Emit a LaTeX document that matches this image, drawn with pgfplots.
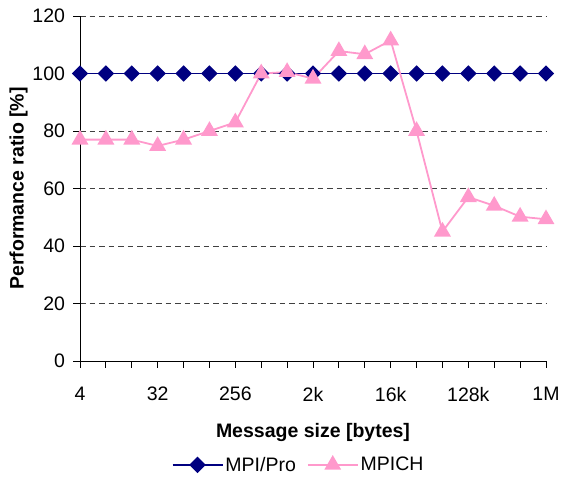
\documentclass[border=0pt]{standalone}
\usepackage{fontspec}
\setmainfont{Liberation Sans}
\usepackage{pgfplots}
\pgfplotsset{compat=1.18}
\definecolor{mpipro}{RGB}{0,0,128}
\definecolor{mpich}{RGB}{255,153,204}
\begin{document}
\begin{tikzpicture}
\useasboundingbox (0,0) rectangle (562bp,480bp);
\begin{axis}[
  at={(80bp,119bp)}, anchor=south west,
  scale only axis, width=466bp, height=345bp,
  xmin=2, xmax=20, ymin=0, ymax=120,
  axis x line=bottom, axis y line=left,
  axis line style={-, black, line width=0.9bp},
  xtick={2,...,20},
  xticklabels={4,{},{},32,{},{},256,{},{},2k,{},{},16k,{},{},128k,{},{},1M},
  ytick={0,20,...,120},
  tick align=outside, major tick length=6.5bp,
  tick style={black, line width=0.8bp},
  ymajorgrids,
  major grid style={black!75, line width=0.8bp, dash pattern=on 5.5bp off 4bp},
  /pgf/number format/assume math mode=true,
  tick label style={font=\fontsize{19.5bp}{22bp}\selectfont},
  yticklabel style={xshift=-5bp},
  xticklabel style={yshift=-16bp},
  xlabel={\textbf{Message size [bytes]}},
  ylabel={\textbf{Performance ratio [\%]}},
  label style={font=\fontsize{19.5bp}{22bp}\selectfont},
  xlabel style={yshift=-15bp},
  ylabel style={yshift=-2bp},
  legend style={at={(0.469,-0.301)}, anchor=center, draw=none, fill=none,
    font=\fontsize{19.5bp}{22bp}\selectfont, /tikz/every even column/.append style={column sep=9bp}},
  legend columns=2,
  legend image code/.code={
    \draw[mark repeat=2,mark phase=2,#1] plot coordinates {(0bp,0bp) (25bp,0bp) (50bp,0bp)};
  },
  clip=false,
]
\addplot[mpipro, line width=1.8bp, mark=square*, mark size=4.9bp, mark options={rotate=45, solid, fill=mpipro}]
coordinates {
(2,100) (3,100) (4,100) (5,100) (6,100) (7,100) (8,100) (9,100) (10,100) (11,100)
(12,100) (13,100) (14,100) (15,100) (16,100) (17,100) (18,100) (19,100) (20,100)
};
\addlegendentry{MPI/Pro}
\addplot[mpich, line width=1.8bp, mark=triangle*, mark size=8bp, mark options={solid, fill=mpich}]
coordinates {
(2,77) (3,77) (4,77) (5,74.8) (6,77) (7,80) (8,83) (9,100) (10,100.5) (11,98.2)
(12,107.8) (13,106.7) (14,111.5) (15,80) (16,45) (17,57) (18,54) (19,50.2) (20,49.3)
};
\addlegendentry{MPICH}
\end{axis}
\end{tikzpicture}
\end{document}
